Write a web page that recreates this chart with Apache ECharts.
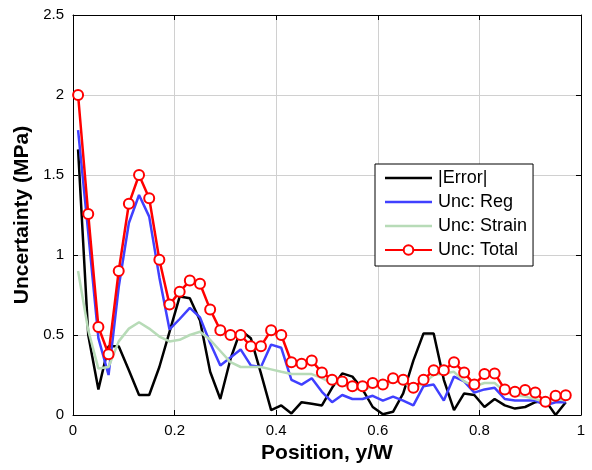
<!DOCTYPE html>
<html>
<head>
<meta charset="utf-8">
<script src="https://cdn.jsdelivr.net/npm/echarts@6/dist/echarts.min.js"></script>
<style>
  html, body { margin: 0; padding: 0; background: #ffffff; }
  #chart { width: 592px; height: 470px; }
</style>
</head>
<body>
<div id="chart"></div>
<script>
// Sample positions across the width (y/W)
const positions = [
  0.01, 0.03, 0.05, 0.07, 0.09, 0.11, 0.13, 0.15, 0.17, 0.19,
  0.21, 0.23, 0.25, 0.27, 0.29, 0.31, 0.33, 0.35, 0.37, 0.39,
  0.41, 0.43, 0.45, 0.47, 0.49, 0.51, 0.53, 0.55, 0.57, 0.59,
  0.61, 0.63, 0.65, 0.67, 0.69, 0.71, 0.73, 0.75, 0.77, 0.79,
  0.81, 0.83, 0.85, 0.87, 0.89, 0.91, 0.93, 0.95, 0.97
];

// |Error| (MPa)
const errorAbs = [
  1.66, 0.50, 0.16, 0.43, 0.43, 0.28, 0.125, 0.125, 0.30, 0.52,
  0.74, 0.73, 0.59, 0.27, 0.10, 0.35, 0.53, 0.48, 0.26, 0.03,
  0.06, 0.01, 0.08, 0.07, 0.06, 0.17, 0.26, 0.24, 0.16, 0.05,
  0.005, 0.02, 0.135, 0.34, 0.51, 0.51, 0.22, 0.03, 0.135, 0.125,
  0.05, 0.10, 0.06, 0.04, 0.05, 0.08, 0.09, 0.00, 0.08
];

// Regularisation uncertainty (MPa)
const uncReg = [
  1.78, 1.14, 0.48, 0.25, 0.80, 1.20, 1.375, 1.24, 0.86, 0.535,
  0.60, 0.67, 0.61, 0.45, 0.31, 0.36, 0.41, 0.31, 0.30, 0.44,
  0.42, 0.22, 0.19, 0.23, 0.145, 0.08, 0.125, 0.10, 0.10, 0.12,
  0.09, 0.115, 0.09, 0.06, 0.18, 0.19, 0.09, 0.24, 0.21, 0.14,
  0.16, 0.17, 0.10, 0.09, 0.09, 0.09, 0.06, 0.08, 0.08
];

// Strain-measurement uncertainty (MPa)
const uncStrain = [
  0.90, 0.53, 0.29, 0.30, 0.46, 0.54, 0.58, 0.54, 0.49, 0.46,
  0.47, 0.50, 0.52, 0.47, 0.40, 0.33, 0.30, 0.30, 0.30, 0.285,
  0.27, 0.256, 0.256, 0.256, 0.23, 0.20, 0.19, 0.167, 0.156, 0.18,
  0.18, 0.21, 0.21, 0.16, 0.20, 0.25, 0.26, 0.27, 0.21, 0.18,
  0.20, 0.20, 0.146, 0.125, 0.115, 0.10, 0.08, 0.10, 0.09
];

// Total uncertainty (MPa)
const uncTotal = [
  2.00, 1.256, 0.55, 0.38, 0.90, 1.32, 1.50, 1.355, 0.97, 0.69,
  0.77, 0.84, 0.82, 0.66, 0.53, 0.50, 0.50, 0.43, 0.43, 0.53,
  0.50, 0.33, 0.32, 0.34, 0.265, 0.22, 0.21, 0.18, 0.18, 0.20,
  0.19, 0.23, 0.22, 0.17, 0.22, 0.28, 0.28, 0.33, 0.265, 0.19,
  0.256, 0.26, 0.16, 0.146, 0.156, 0.14, 0.083, 0.12, 0.123
];

const seriesNames = ['|Error|', 'Unc: Reg', 'Unc: Strain', 'Unc: Total'];

const pair = (ys) => positions.map((x, i) => [x, ys[i]]);

const FONT = 'Liberation Sans, Arial, Helvetica, sans-serif';
const gridColor = '#d0d0d0';
// plain line sample for legend entries without markers
const lineIcon = 'path://M0,0 L47,0 L47,2.5 L0,2.5 Z';

const boxAxis = (extra) => Object.assign({
  type: 'value',
  axisLine: { show: true, onZero: false, lineStyle: { color: '#000', width: 1 } },
  axisTick: { show: true, inside: true, length: 5, lineStyle: { color: '#000', width: 1 } },
  splitLine: { show: false },
  axisLabel: { show: false }
}, extra);

const chart = echarts.init(document.getElementById('chart'), null, { renderer: 'canvas' });

chart.setOption({
  backgroundColor: '#ffffff',
  animation: false,
  grid: { left: 73, right: 11, top: 15, bottom: 55, containLabel: false },
  xAxis: [
    boxAxis({
      position: 'bottom', min: 0, max: 1, interval: 0.2,
      splitLine: { show: true, lineStyle: { color: gridColor, width: 1 } },
      axisLabel: { show: true, color: '#000', fontFamily: FONT, fontSize: 15, margin: 8 },
      name: 'Position, y/W', nameLocation: 'middle', nameGap: 28,
      nameTextStyle: { color: '#000', fontFamily: FONT, fontSize: 21, fontWeight: 'bold' }
    }),
    boxAxis({ position: 'top', min: 0, max: 1, interval: 0.2 })
  ],
  yAxis: [
    boxAxis({
      position: 'left', min: 0, max: 2.5, interval: 0.5,
      splitLine: { show: true, lineStyle: { color: gridColor, width: 1 } },
      axisLabel: { show: true, color: '#000', fontFamily: FONT, fontSize: 15, margin: 9 },
      name: 'Uncertainty (MPa)', nameLocation: 'middle', nameGap: 34,
      nameTextStyle: { color: '#000', fontFamily: FONT, fontSize: 21, fontWeight: 'bold' }
    }),
    boxAxis({ position: 'right', min: 0, max: 2.5, interval: 0.5 })
  ],
  legend: {
    orient: 'vertical',
    left: 375, top: 164,
    data: [
      { name: seriesNames[0], icon: lineIcon },
      { name: seriesNames[1], icon: lineIcon },
      { name: seriesNames[2], icon: lineIcon },
      { name: seriesNames[3] }
    ],
    backgroundColor: '#ffffff',
    borderColor: '#000', borderWidth: 1,
    padding: [5, 6, 7, 9],
    itemWidth: 47, itemHeight: 12, itemGap: 6,
    textStyle: { color: '#000', fontFamily: FONT, fontSize: 18, padding: [0, 0, 0, 1] }
  },
  series: [
    {
      name: seriesNames[0], type: 'line', data: pair(errorAbs),
      showSymbol: false, symbol: 'none',
      lineStyle: { color: '#000000', width: 2.5 }, itemStyle: { color: '#000000' }
    },
    {
      name: seriesNames[1], type: 'line', data: pair(uncReg),
      showSymbol: false, symbol: 'none',
      lineStyle: { color: '#4040ff', width: 2.5 }, itemStyle: { color: '#4040ff' }
    },
    {
      name: seriesNames[2], type: 'line', data: pair(uncStrain),
      showSymbol: false, symbol: 'none',
      lineStyle: { color: '#b7dbb7', width: 2.5 }, itemStyle: { color: '#b7dbb7' }
    },
    {
      name: seriesNames[3], type: 'line', data: pair(uncTotal),
      symbol: 'emptyCircle', symbolSize: 10,
      lineStyle: { color: '#ff0000', width: 2.5 },
      itemStyle: { color: '#ff0000', borderColor: '#ff0000', borderWidth: 2.5 }
    }
  ]
});
</script>
</body>
</html>
